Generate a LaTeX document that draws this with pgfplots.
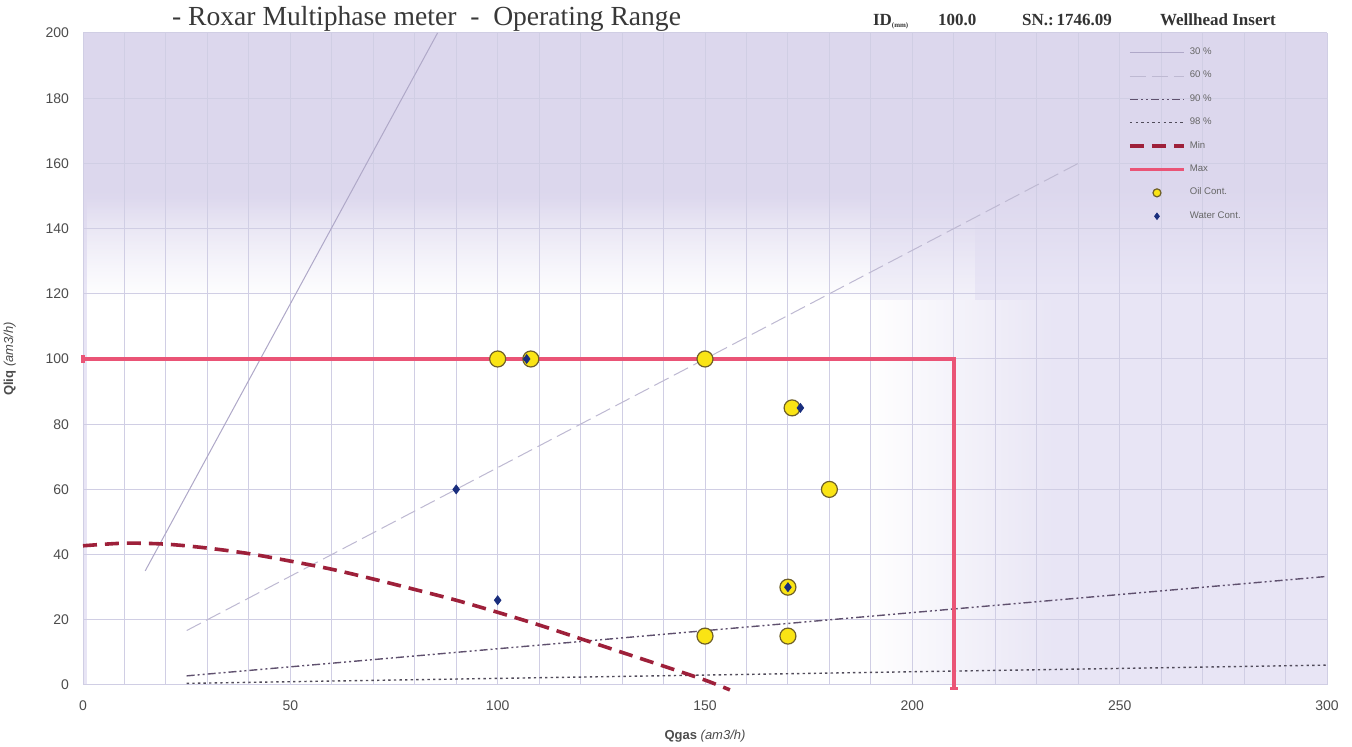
\documentclass[border=0pt]{standalone}
\usepackage{fontspec}
\setmainfont{Liberation Serif}
\setsansfont{Liberation Sans}
\usepackage{pgfplots}
\pgfplotsset{compat=1.18}
\usetikzlibrary{fadings}
\definecolor{gridc}{RGB}{208,206,228}
\definecolor{lav}{RGB}{220,215,237}
\definecolor{lavlow}{RGB}{232,229,245}
\definecolor{maxc}{RGB}{234,84,118}
\definecolor{minc}{RGB}{158,32,58}
\definecolor{oilc}{RGB}{250,228,20}
\definecolor{oiled}{RGB}{110,95,40}
\definecolor{wat}{RGB}{25,45,125}
\definecolor{l30}{RGB}{175,168,200}
\definecolor{l60}{RGB}{190,185,210}
\definecolor{l90}{RGB}{95,80,110}
\definecolor{l98}{RGB}{80,75,90}
\pgfplotsset{
  lineleg/.style={legend image code/.code={\draw[##1] (0cm,0cm) -- (0.95cm,0cm);}},
  markleg/.style={legend image code/.code={\draw[##1] plot coordinates {(0.475cm,0cm)};}},
}
\begin{document}
\begin{tikzpicture}
\begin{axis}[
  set layers,
  scale only axis, width=622pt, height=326pt,
  xmin=0, xmax=300, ymin=0, ymax=200,
  xtick={0,50,...,300}, ytick={0,20,...,200},
  minor x tick num=4,
  grid=both,
  major grid style={gridc, line width=0.5pt},
  minor grid style={gridc, line width=0.5pt},
  axis line style={draw=none}, tick style={draw=none},
  tick label style={font=\sffamily\fontsize{7}{8}\selectfont, text=black!70},
  yticklabel style={xshift=-3.5pt},
  xticklabel style={yshift=-4.5pt},
  /pgf/number format/assume math mode=true,
  xlabel={\sffamily\fontsize{6.5}{7}\selectfont\textbf{Qgas} \textit{(am3/h)}},
  ylabel={\sffamily\fontsize{6.5}{7}\selectfont\textbf{Qliq} \textit{(am3/h)}},
  xlabel style={at={(axis description cs:0.5,0)}, anchor=north, yshift=-19pt, text=black!70},
  ylabel style={at={(axis description cs:0,0.5)}, anchor=south, yshift=30pt, text=black!70},
  clip=false,
  axis background/.style={fill=lav},
  legend style={at={(axis description cs:0.835,0.99)}, anchor=north west, draw=none, fill=none,
    font=\sffamily\fontsize{4.8}{5}\selectfont, text=black!60, row sep=2.8pt,
    legend cell align=left},
]
\begin{pgfonlayer}{axis background}
\fill[lavlow] (axis cs:0,0) rectangle (axis cs:300,122);
\shade[bottom color=lavlow, top color=lav] (axis cs:0,122) rectangle (axis cs:300,152);
\fill[white] (axis cs:1,0) rectangle (axis cs:190,118);
\fill[white, path fading=east] (axis cs:190,0) rectangle (axis cs:235,118);
\fill[white, path fading=north] (axis cs:1,118) rectangle (axis cs:190,150);
\fill[white, path fading=north, opacity=0.45] (axis cs:190,118) rectangle (axis cs:215,145);
\end{pgfonlayer}

\addplot[lineleg, l30, line width=0.5pt] coordinates {(15,35) (85.5,200)};
\addlegendentry{30 \%}
\addplot[lineleg, l60, line width=0.5pt, dash pattern=on 8pt off 3pt] coordinates {(25,16.7) (240,160)};
\addlegendentry{60 \%}
\addplot[lineleg, l90, line width=0.7pt, dash pattern=on 4pt off 1.5pt on 1pt off 1.5pt on 1pt off 1.5pt] coordinates {(25,2.8) (300,33.3)};
\addlegendentry{90 \%}
\addplot[lineleg, l98, line width=0.7pt, dash pattern=on 1.2pt off 1.6pt] coordinates {(25,0.5) (300,6.1)};
\addlegendentry{98 \%}
\addplot[lineleg, minc, line width=1.8pt, dash pattern=on 7pt off 4pt, smooth] coordinates {
 (0,42.7) (10,43.5) (20,43.2) (30,42) (40,40.3) (50,38) (60,35.5) (70,32.5) (80,29.3)
 (90,26) (100,22.3) (110,18.4) (120,14.2) (130,10) (140,5.8) (150,1.5) (156,-1.5)};
\addlegendentry{Min}
\addplot[lineleg, maxc, line width=1.8pt] coordinates {(0,100) (210,100) (210,-1)};
\addlegendentry{Max}
\addplot[markleg, only marks, mark=*, mark size=4pt, mark options={fill=oilc, draw=oiled, line width=0.6pt},
  legend image post style={mark size=2pt}] coordinates {
 (100,100) (108,100) (150,100) (171,85) (180,60) (170,30) (150,15) (170,15)};
\addlegendentry{Oil Cont.}
\addplot[markleg, only marks, mark=diamond*, mark size=2.2pt, mark options={fill=wat, draw=wat},
  legend image post style={mark size=1.6pt}] coordinates {
 (107,100) (173,85) (90,60) (100,26) (170,30)};
\addlegendentry{Water Cont.}
\addplot[only marks, maxc, mark=|, mark size=2pt, mark options={line width=1.6pt}, forget plot] coordinates {(0,100)};
\addplot[only marks, maxc, mark=-, mark size=2pt, mark options={line width=1.6pt}, forget plot] coordinates {(210,-1)};
\end{axis}
\node[anchor=base west, font=\fontsize{13.8}{15}\selectfont, text=black!78] at (41pt,329.5pt) {- Roxar Multiphase meter \ - \ Operating Range};
\node[anchor=base west, font=\bfseries\fontsize{8.5}{9}\selectfont, text=black!80] at (391.5pt,329.5pt) {ID\textsubscript{\fontsize{3.5}{3.5}\selectfont(mm)}};
\node[anchor=base west, font=\bfseries\fontsize{8.5}{9}\selectfont, text=black!80] at (424pt,329.5pt) {100.0};
\node[anchor=base west, font=\bfseries\fontsize{8.5}{9}\selectfont, text=black!80] at (466pt,329.5pt) {SN.:\,1746.09};
\node[anchor=base west, font=\bfseries\fontsize{8.5}{9}\selectfont, text=black!80] at (535pt,329.5pt) {Wellhead Insert};
\pgfresetboundingbox
\path (-41.5pt,-31pt) rectangle (634.5pt,342.5pt);
\end{tikzpicture}
\end{document}
